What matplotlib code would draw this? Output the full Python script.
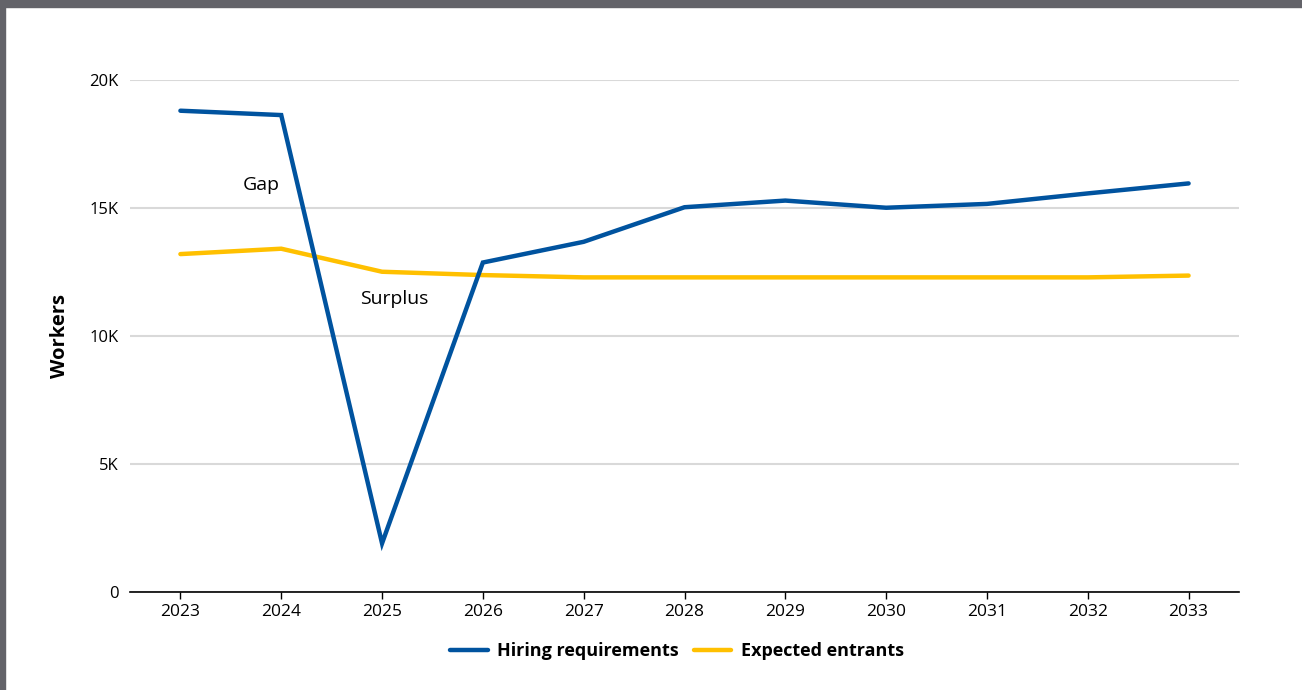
import matplotlib
matplotlib.use("Agg")
import matplotlib.pyplot as plt
from matplotlib.patches import Rectangle
from matplotlib.ticker import FuncFormatter

plt.rcParams["font.family"] = ["Open Sans", "DejaVu Sans"]

years = [2023, 2024, 2025, 2026, 2027, 2028, 2029, 2030, 2031, 2032, 2033]
hiring_requirements = [18800, 18630, 1900, 12870, 13680, 15030, 15290, 15010, 15160, 15570, 15960]
expected_entrants = [13200, 13410, 12510, 12380, 12290, 12290, 12290, 12290, 12290, 12290, 12360]

BLUE = "#00539f"
YELLOW = "#ffc000"
GRID = "#d9d9d9"
FRAME = "#636369"


def k_format(v, _pos):
    return "0" if v == 0 else f"{int(v / 1000)}K"


fig = plt.figure(figsize=(13.02, 6.9), dpi=100)
ax = fig.add_axes([130 / 1302, 1 - 592 / 690, 1109 / 1302, 512 / 690])

ax.plot(years, hiring_requirements, color=BLUE, lw=3.2, solid_capstyle="round",
        solid_joinstyle="miter", label="Hiring requirements", zorder=3)
ax.plot(years, expected_entrants, color=YELLOW, lw=3.2, solid_capstyle="round",
        solid_joinstyle="miter", label="Expected entrants", zorder=2)

ax.set_xlim(2022.5, 2033.5)
ax.set_ylim(0, 20000)
ax.set_xticks(years)
ax.set_yticks([0, 5000, 10000, 15000, 20000])
ax.yaxis.set_major_formatter(FuncFormatter(k_format))
ax.grid(axis="y", color=GRID, lw=1.5)
ax.set_axisbelow(True)

for side in ("top", "right", "left"):
    ax.spines[side].set_visible(False)
ax.spines["bottom"].set_color("black")
ax.spines["bottom"].set_linewidth(1.2)
ax.spines["bottom"].set_zorder(4)

ax.tick_params(axis="y", length=0, pad=8, labelsize=12)
ax.tick_params(axis="x", length=5, width=1, pad=4, labelsize=12.5, direction="out")
ax.set_ylabel("Workers", fontsize=14.5, fontweight="bold", labelpad=14)

ax.text(2023.8, 15900, "Gap", ha="center", va="center", fontsize=14)
ax.text(2025.12, 11450, "Surplus", ha="center", va="center", fontsize=14)

fig.legend(loc="center", bbox_to_anchor=(677 / 1302, 1 - 651 / 690), ncol=2,
           frameon=False, prop={"weight": "bold", "size": 13},
           handlelength=2.1, handletextpad=0.55, columnspacing=0.8)

# dark frame along the top and left edges
fig.patches.append(Rectangle((0, 1 - 7 / 690), 1, 7 / 690, transform=fig.transFigure,
                             color=FRAME, zorder=10))
fig.patches.append(Rectangle((0, 0), 5 / 1302, 1, transform=fig.transFigure,
                             color=FRAME, zorder=10))

fig.savefig("out.png", dpi=100)
